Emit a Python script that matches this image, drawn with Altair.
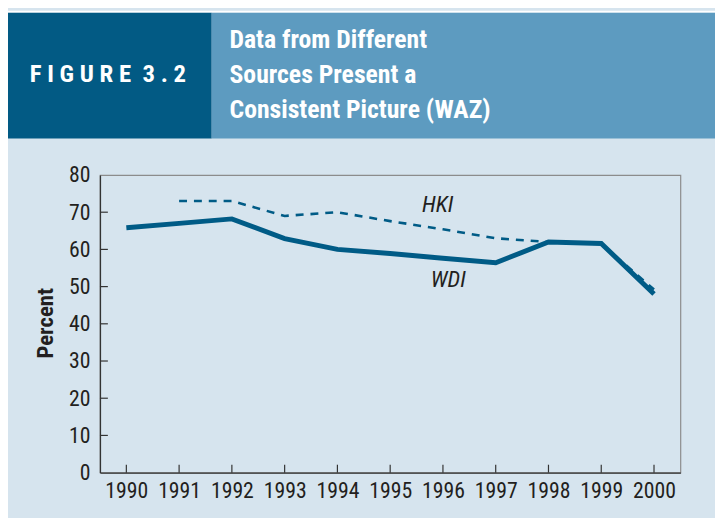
import altair as alt
import pandas as pd

# ---- data ----
years = list(range(1990, 2001))
wdi = [65.8, 67.0, 68.2, 62.9, 60.0, 58.9, 57.6, 56.4, 62.0, 61.6, 48.0]
hki_years = list(range(1991, 2001))
hki = [73.0, 73.0, 69.0, 70.0, 67.6, 65.4, 63.0, 62.0, 61.5, 49.2]
series_labels = ["HKI", "WDI"]
label_x = [1995.9, 1996.1]
label_y = [71.8, 51.8]
y_ticks = list(range(0, 81, 10))
figure_label = "F I G U R E\u00a0\u00a03 . 2"
title_text = "Data from Different\nSources Present a\nConsistent Picture (WAZ)"
y_title = "Percent"

FONT = "Liberation Sans Narrow, Arial Narrow, Roboto Condensed, DejaVu Sans Condensed, sans-serif"
DARK = "#025a84"
LIGHT = "#5d9bc0"
BG = "#d6e4ee"
LINE = "#005b86"
TXT = "#231f20"

W, H = 587, 301
PAD = {"left": 93, "top": 166, "right": 35, "bottom": 43}

df_wdi = pd.DataFrame({"year": years, "value": wdi})
df_hki = pd.DataFrame({"year": hki_years, "value": hki})
df_lab = pd.DataFrame({"year": label_x, "value": label_y, "name": series_labels})
df_years = pd.DataFrame({"year": years})
df_yt = pd.DataFrame({"value": y_ticks[1:-1]})

x_scale = alt.Scale(domain=[1989.5, 2000.5], nice=False, zero=False)
y_scale = alt.Scale(domain=[0, 80], nice=False)

x_axis = alt.Axis(values=years, format="d", ticks=False, labelPadding=8,
                  labelFont=FONT, labelFontSize=22, labelColor=TXT,
                  domainColor="#333333", domainWidth=1.3, title=None,
                  grid=False, zindex=1, labelFlush=False, labelOverlap=False)
y_axis = alt.Axis(values=y_ticks, ticks=False,
                  labelPadding=10, labelFont=FONT, labelFontSize=22, labelColor=TXT,
                  domainColor="#333333", domainWidth=1.3, title=None,
                  grid=False, zindex=1, labelFlush=False, labelOverlap=False)

X = alt.X("year:Q", scale=x_scale, axis=x_axis)
Y = alt.Y("value:Q", scale=y_scale, axis=y_axis)

one = alt.Data(values=[{}])

white_strip = alt.Chart(one).mark_rect(color="white").encode(
    x=alt.value(-93), x2=alt.value(622), y=alt.value(-166), y2=alt.value(-164))
dark_block = alt.Chart(one).mark_rect(color=DARK).encode(
    x=alt.value(-93), x2=alt.value(113), y=alt.value(-164), y2=alt.value(-37))
light_block = alt.Chart(one).mark_rect(color=LIGHT).encode(
    x=alt.value(113), x2=alt.value(622), y=alt.value(-164), y2=alt.value(-37))
fig_text = alt.Chart(one).mark_text(
    font=FONT, fontSize=25, fontWeight="bold",
    color="white", align="center", baseline="middle").encode(
    x=alt.value(8), y=alt.value(-102), text=alt.value(figure_label))
title = alt.Chart(one).mark_text(
    font=FONT, fontSize=26, fontWeight="bold", color="white", align="left",
    baseline="alphabetic", lineBreak="\n", lineHeight=35).encode(
    x=alt.value(131), y=alt.value(-128), text=alt.value(title_text))
ytitle = alt.Chart(one).mark_text(
    font=FONT, fontSize=23, fontWeight="bold", color=TXT, align="center",
    baseline="middle", angle=270).encode(
    x=alt.value(-54), y=alt.value(150), text=alt.value(y_title))

hki_line = alt.Chart(df_hki).mark_line(
    color=LINE, strokeWidth=2.6, strokeDash=[8, 7]).encode(x=X, y=Y)
wdi_line = alt.Chart(df_wdi).mark_line(
    color=LINE, strokeWidth=5, strokeJoin="miter").encode(x=X, y=Y)
xticks = alt.Chart(df_years).mark_rule(color="#333333", strokeWidth=1.2).encode(
    x=X, y=alt.value(H), y2=alt.value(H - 8))
yticks = alt.Chart(df_yt).mark_rule(color="#333333", strokeWidth=1.2).encode(
    y=Y, x=alt.value(0), x2=alt.value(8))
labels = alt.Chart(df_lab).mark_text(
    font=FONT, fontSize=23, fontStyle="italic", color=TXT,
    align="center", baseline="middle").encode(x=X, y=Y, text="name:N")

chart = alt.layer(
    hki_line, wdi_line, xticks, yticks, labels,
    white_strip, dark_block, light_block, fig_text, title, ytitle
).properties(
    width=W, height=H, padding=PAD,
    autosize=alt.AutoSizeParams(type="none"),
    background=BG,
).configure_view(stroke="#8c8c8c", strokeWidth=1.2)

chart.save("out.html", embed_options={"renderer": "svg", "actions": False})
